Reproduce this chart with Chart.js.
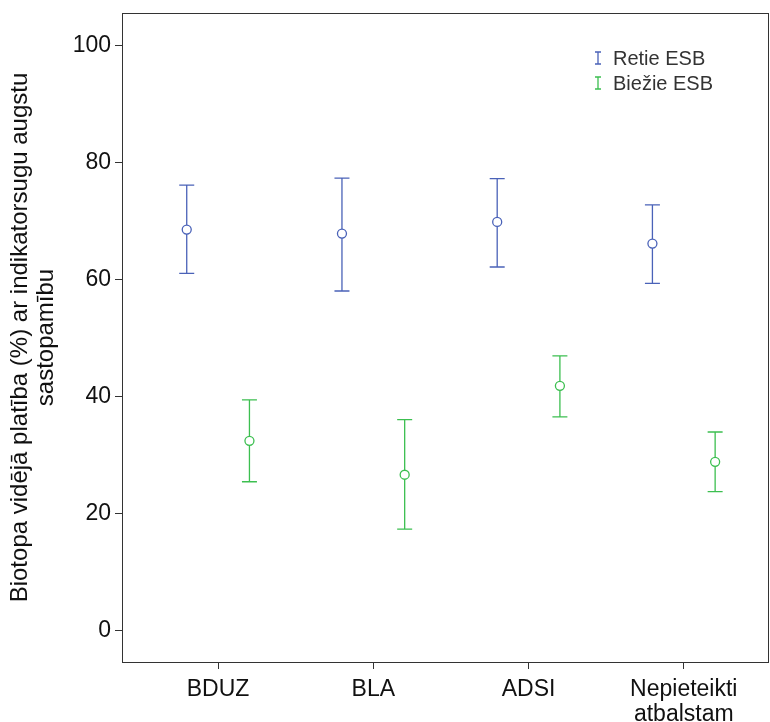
<!DOCTYPE html>
<html>
<head>
<meta charset="utf-8" />
<title>Biotopa vidējā platība</title>
<script src="https://cdn.jsdelivr.net/npm/chart.js"></script>
<style>
  body, html { margin: 0; padding: 0; background: #ffffff; }
  canvas { display: block; }
</style>
</head>
<body>
<canvas id="myChart" width="770" height="722"></canvas>
<script>
// categories and tick labels
const categories = ['BDUZ', 'BLA', 'ADSI', ['Nepieteikti', 'atbalstam']];
const yTicks = [0, 20, 40, 60, 80, 100];
const seriesNames = ['Retie ESB', 'Biežie ESB'];

// group means with lower / upper error bar ends
const retieMean = [68.6, 67.9, 69.9, 66.2];
const retieLow = [61.1, 58.1, 62.2, 59.4];
const retieHigh = [76.2, 77.4, 77.3, 72.8];

const biezieMean = [32.5, 26.7, 41.9, 28.9];
const biezieLow = [25.5, 17.4, 36.6, 23.8];
const biezieHigh = [39.5, 36.1, 47.0, 34.0];

const blue = '#4a62b8';
const green = '#3cbf50';
const shift = 0.202;
const fontFamily = 'Liberation Sans, Arial, sans-serif';

function points(means, dx) {
  return means.map((v, i) => ({ x: i + 1 + dx, y: v }));
}

// whiskers with caps, drawn from the low/high arrays through the y scale
const errorBars = {
  id: 'errorBars',
  afterDatasetsDraw(chart) {
    const ctx = chart.ctx;
    const y = chart.scales.y;
    chart.data.datasets.forEach((ds, di) => {
      const meta = chart.getDatasetMeta(di);
      ctx.save();
      ctx.strokeStyle = ds.borderColor;
      ctx.lineWidth = 1.3;
      meta.data.forEach((pt, i) => {
        const top = y.getPixelForValue(ds.high[i]);
        const bot = y.getPixelForValue(ds.low[i]);
        const r = ds.pointRadius;
        ctx.beginPath();
        ctx.moveTo(pt.x, top);
        ctx.lineTo(pt.x, pt.y - r);
        ctx.moveTo(pt.x, pt.y + r);
        ctx.lineTo(pt.x, bot);
        ctx.moveTo(pt.x - 7.5, top);
        ctx.lineTo(pt.x + 7.5, top);
        ctx.moveTo(pt.x - 7.5, bot);
        ctx.lineTo(pt.x + 7.5, bot);
        ctx.stroke();
      });
      ctx.restore();
    });
  },
  afterDraw(chart) {
    const { ctx, chartArea: a } = chart;
    ctx.save();
    ctx.strokeStyle = '#333';
    ctx.lineWidth = 1;
    ctx.strokeRect(Math.round(a.left) + 0.5, Math.round(a.top) + 0.5,
      Math.round(a.right - a.left) - 1, Math.round(a.bottom - a.top));
    // legend in the upper right corner
    ctx.font = '20px ' + fontFamily;
    ctx.textBaseline = 'middle';
    chart.data.datasets.forEach((ds, i) => {
      const lx = 598, ly = 58 + i * 25;
      ctx.strokeStyle = ds.borderColor;
      ctx.lineWidth = 1.3;
      ctx.beginPath();
      ctx.moveTo(lx, ly - 6); ctx.lineTo(lx, ly + 6);
      ctx.moveTo(lx - 3, ly - 6); ctx.lineTo(lx + 3, ly - 6);
      ctx.moveTo(lx - 3, ly + 6); ctx.lineTo(lx + 3, ly + 6);
      ctx.stroke();
      ctx.fillStyle = '#333';
      ctx.fillText(ds.label, lx + 15, ly + 1);
    });
    ctx.restore();
  }
};

new Chart(document.getElementById('myChart'), {
  type: 'scatter',
  data: {
    datasets: [
      {
        label: seriesNames[0],
        data: points(retieMean, -shift),
        low: retieLow,
        high: retieHigh,
        borderColor: blue,
        backgroundColor: 'rgba(0,0,0,0)',
        pointRadius: 4.5,
        pointBorderWidth: 1.3,
        pointHoverRadius: 4.5
      },
      {
        label: seriesNames[1],
        data: points(biezieMean, shift),
        low: biezieLow,
        high: biezieHigh,
        borderColor: green,
        backgroundColor: 'rgba(0,0,0,0)',
        pointRadius: 4.5,
        pointBorderWidth: 1.3,
        pointHoverRadius: 4.5
      }
    ]
  },
  options: {
    responsive: false,
    animation: false,
    layout: { autoPadding: false, padding: { top: 13, right: 1, left: 0, bottom: 0 } },
    plugins: { legend: { display: false }, tooltip: { enabled: false } },
    scales: {
      x: {
        type: 'linear',
        min: 0.381,
        max: 4.549,
        afterBuildTicks: (s) => { s.ticks = categories.map((c, i) => ({ value: i + 1 })); },
        afterFit: (s) => {
          s.height = 60;
          s.paddingLeft = 0;
          s.paddingRight = 0;
        },
        ticks: {
          color: '#111',
          font: { family: fontFamily, size: 23, lineHeight: 1.05 },
          padding: 9,
          maxRotation: 0,
          autoSkip: false,
          callback: (v) => categories[v - 1]
        },
        grid: { drawOnChartArea: false, drawTicks: true, tickLength: 7, color: '#333' },
        border: { display: false }
      },
      y: {
        min: -5.3,
        max: 105.6,
        afterBuildTicks: (s) => { s.ticks = yTicks.map((v) => ({ value: v })); },
        afterFit: (s) => {
          s.width = 122;
          s.paddingTop = 0;
          s.paddingBottom = 0;
        },
        ticks: {
          color: '#111',
          font: { family: fontFamily, size: 23 },
          padding: 4,
          callback: (v) => v
        },
        grid: { drawOnChartArea: false, drawTicks: true, tickLength: 7, color: '#333' },
        border: { display: false },
        title: {
          display: true,
          text: ['Biotopa vidējā platība (%) ar indikatorsugu augstu', 'sastopamību'],
          color: '#111',
          font: { family: fontFamily, size: 24, lineHeight: 1.08 },
          padding: { top: 7, bottom: 0 }
        }
      }
    }
  },
  plugins: [errorBars]
});
</script>
</body>
</html>
